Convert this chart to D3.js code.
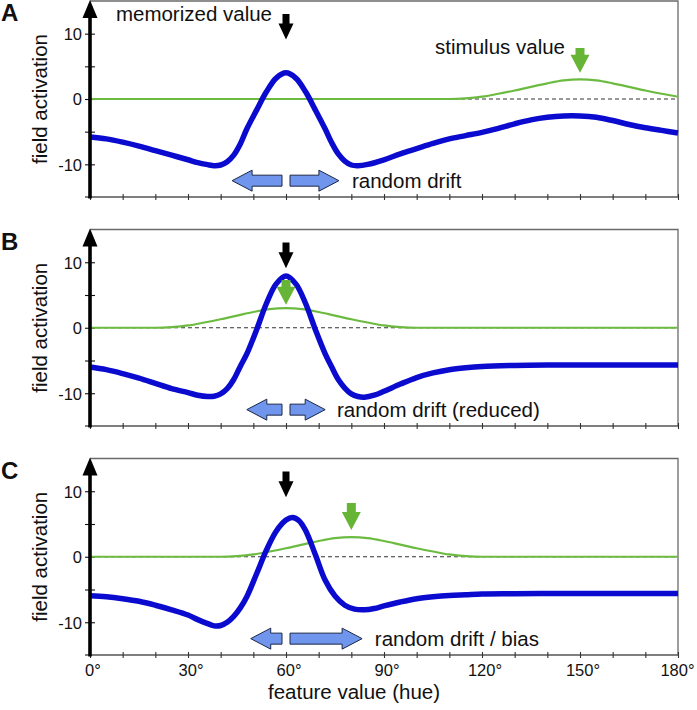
<!DOCTYPE html>
<html><head><meta charset="utf-8">
<script src="https://cdn.jsdelivr.net/npm/d3@7"></script>
<style>
body{margin:0;background:#fff}
svg{display:block}
text{font-family:"Liberation Sans",Arial,Helvetica,sans-serif;fill:#111}
</style>
</head><body>
<svg id="c" width="697" height="710"></svg>
<script>
// ---------------- data ----------------
const panelLetters = ["A", "B", "C"];
const xTickValues = [0, 10, 20, 30, 40, 50, 60, 70, 80, 90, 100, 110, 120, 130, 140, 150, 160, 170, 180];
const xTickLabels = ["0°", "30°", "60°", "90°", "120°", "150°", "180°"];
const xLabelValues = [0, 30, 60, 90, 120, 150, 180];
const yTickValues = [-10, -5, 0, 5, 10];
const yTickLabels = ["-10", "", "0", "", "10"];

// field activation (blue)
const fieldA_deg = [0,5,10,15,20,25,30,33,36,38,40,42,44,46,48,51,54,57,60,63,66,69,72,74,76,78,80,82,85,90,95,100,105,110,115,120,125,130,135,140,145,150,155,160,165,170,175,180];
const fieldA_val = [-5.8,-6.1,-6.6,-7.2,-7.9,-8.6,-9.3,-9.75,-10.05,-10.2,-10.1,-9.6,-8.6,-6.9,-4.6,-1.7,1.1,3.2,4.0,3.2,1.1,-1.7,-4.6,-6.7,-8.4,-9.5,-10.1,-10.2,-10.0,-9.3,-8.4,-7.6,-6.8,-6.1,-5.6,-5.1,-4.5,-3.8,-3.2,-2.8,-2.6,-2.6,-2.8,-3.3,-3.9,-4.4,-4.8,-5.2];

const fieldB_deg = [0,5,10,15,20,25,30,33,36,38,40,42,44,46,48,51,54,57,60,63,66,69,72,74,76,78,80,82,84,87,90,95,100,105,110,115,120,130,140,150,160,170,180];
const fieldB_val = [-6.0,-6.4,-7.0,-7.7,-8.5,-9.3,-9.9,-10.3,-10.5,-10.45,-10.1,-9.3,-7.9,-5.9,-4.0,-0.3,3.7,6.7,7.9,6.7,3.7,-0.3,-4.0,-6.0,-7.9,-9.2,-10.1,-10.5,-10.6,-10.3,-9.7,-8.6,-7.6,-6.9,-6.4,-6.1,-5.9,-5.75,-5.7,-5.7,-5.7,-5.7,-5.7];

const fieldC_deg = [0,5,10,15,20,25,30,33,36,38,40,42,44,46,48,51,54,57,60,62,64,66,69,72,75,78,81,84,87,90,95,100,105,110,115,120,130,140,150,160,170,180];
const fieldC_val = [-5.95,-6.1,-6.4,-6.8,-7.4,-8.1,-8.9,-9.6,-10.2,-10.55,-10.5,-10.0,-9.1,-7.8,-6.1,-2.6,1.0,3.9,5.6,6.0,5.5,4.0,0.3,-3.6,-6.0,-7.4,-8.0,-8.1,-7.9,-7.5,-6.9,-6.4,-6.1,-5.9,-5.8,-5.7,-5.65,-5.6,-5.6,-5.6,-5.6,-5.6];

// stimulus input (green)
const stimA_deg = [0,110,115,120,125,130,135,140,145,150,155,160,165,170,175,180];
const stimA_val = [0,0,0.1,0.35,0.8,1.3,1.85,2.4,2.85,3.0,2.85,2.4,1.85,1.3,0.8,0.35];

const stimB_deg = [0,20,25,30,35,40,45,50,55,60,65,70,75,80,85,90,95,100,180];
const stimB_val = [0,0,0.1,0.35,0.8,1.3,1.85,2.4,2.85,3.0,2.85,2.4,1.85,1.3,0.8,0.35,0.1,0,0];

const stimC_deg = [0,40,45,50,55,60,65,70,75,80,85,90,95,100,105,110,115,120,180];
const stimC_val = [0,0,0.1,0.35,0.8,1.3,1.85,2.4,2.85,3.0,2.85,2.4,1.85,1.3,0.8,0.35,0.1,0,0];

const memorizedValue = [60, 60, 60];
const stimulusValue = [150, 60, 80];
const stimArrowTop = [7.8, 7.3, 8.2];
const stimArrowTip = [4.0, 3.5, 4.1];
const driftLeftTip = [43.5, 48, 49.2];
const driftRightTip = [76.2, 72, 83.3];
const driftText = ["random drift", "random drift (reduced)", "random drift / bias"];
const driftTextDeg = [80.2, 75.6, 87.2];

// ---------------- drawing ----------------
const fields = [[fieldA_deg, fieldA_val], [fieldB_deg, fieldB_val], [fieldC_deg, fieldC_val]];
const stims = [[stimA_deg, stimA_val], [stimB_deg, stimB_val], [stimC_deg, stimC_val]];

const svg = d3.select("#c");
const x = d3.scaleLinear().domain([0, 180]).range([90, 678]);
const panelTop = [1, 229.5, 458.5];
const panelBottom = [197, 426, 655];

const BLUE = "#0b0bd0", GREEN = "#6cbb40", GREEN_ARROW = "#66b536";
const ARROW_FILL = "#6f96ec", ARROW_STROKE = "#1c2748";

function downArrow(g, cx, yTop, yTip, shaftW, headW, headL, fill) {
  const yh = yTip - headL;
  const pts = [[cx - shaftW/2, yTop], [cx + shaftW/2, yTop], [cx + shaftW/2, yh], [cx + headW/2, yh],
               [cx, yTip], [cx - headW/2, yh], [cx - shaftW/2, yh]];
  g.append("polygon").attr("points", pts.map(p => p.join(",")).join(" ")).attr("fill", fill);
}
function hArrow(g, xTail, xTip, yc) {
  const dir = Math.sign(xTip - xTail);
  const headL = 20, sh = 5.5, hh = 10.5;
  const xb = xTip - dir * headL;
  const pts = [[xTail, yc - sh], [xb, yc - sh], [xb, yc - hh], [xTip, yc], [xb, yc + hh], [xb, yc + sh], [xTail, yc + sh]];
  g.append("polygon").attr("points", pts.map(p => p.join(",")).join(" "))
    .attr("fill", ARROW_FILL).attr("stroke", ARROW_STROKE).attr("stroke-width", 1).attr("stroke-linejoin", "miter");
}

for (let i = 0; i < 3; i++) {
  const top = panelTop[i], bottom = panelBottom[i];
  const y = d3.scaleLinear().domain([-15, 15]).range([bottom, top]);
  const g = svg.append("g");

  // frame (top and right)
  g.append("path").attr("d", `M${x(0)},${top}H${x(180)}V${bottom}`)
    .attr("fill", "none").attr("stroke", "#6a6a6a").attr("stroke-width", 1.3);

  // bottom axis
  const xa = g.append("g").attr("transform", `translate(0,${bottom})`)
    .call(d3.axisBottom(x).tickValues(xTickValues).tickSizeOuter(0)
      .tickFormat(d => (i === 2 && xLabelValues.includes(d)) ? xTickLabels[xLabelValues.indexOf(d)] : ""));
  xa.select(".domain").attr("stroke", "#555").attr("stroke-width", 1.4).attr("d", `M${x(0)-5},0H${x(180)}`);
  xa.selectAll(".tick line").attr("y1", -3).attr("y2", 3).attr("stroke", "#333").attr("stroke-width", 1.1);
  xa.selectAll(".tick text").attr("y", 21).attr("dy", 0).attr("dx", d => d === 180 ? -1 : 2.5)
    .attr("font-size", 16.5).attr("font-family", null).attr("fill", "#111");

  // left axis ticks & labels
  const ya = g.append("g").attr("transform", `translate(${x(0)},0)`)
    .call(d3.axisLeft(y).tickValues(yTickValues).tickFormat((d, k) => yTickLabels[k]));
  ya.select(".domain").remove();
  ya.selectAll(".tick line").attr("x1", -5).attr("x2", 5).attr("stroke", "#111").attr("stroke-width", 1.1);
  ya.selectAll(".tick text").attr("x", -8).attr("dy", "0.35em")
    .attr("font-size", 16.5).attr("font-family", null).attr("fill", "#111");

  // dashed zero line
  g.append("line").attr("x1", x(0)).attr("x2", x(180)).attr("y1", y(0)).attr("y2", y(0))
    .attr("stroke", "#333").attr("stroke-width", 1).attr("stroke-dasharray", "4,3");

  // stimulus curve
  const [sd, sv] = stims[i];
  const sLine = d3.line().x((d, k) => x(sd[k])).y(d => y(d)).curve(d3.curveMonotoneX);
  g.append("path").attr("d", sLine(sv)).attr("fill", "none").attr("stroke", GREEN).attr("stroke-width", 2.2);

  // field curve
  const [fd, fv] = fields[i];
  const fLine = d3.line().x((d, k) => x(fd[k])).y(d => y(d)).curve(d3.curveCatmullRom.alpha(0.5));
  g.append("path").attr("d", fLine(fv)).attr("fill", "none").attr("stroke", BLUE)
    .attr("stroke-width", 5.5).attr("stroke-linecap", "butt").attr("stroke-linejoin", "round");

  // left axis thick line with arrowhead
  g.append("line").attr("x1", x(0)).attr("x2", x(0)).attr("y1", bottom + 1.5).attr("y2", top + 12)
    .attr("stroke", "#000").attr("stroke-width", 3.6);
  g.append("polygon").attr("points", `${x(0)},${top - 1} ${x(0) - 7.5},${top + 17} ${x(0) + 7.5},${top + 17}`).attr("fill", "#000");

  // memorized value arrow (black)
  downArrow(g, x(memorizedValue[i]), y(13), y(9.1), 7, 15, 16, "#000");
  // stimulus arrow (green)
  downArrow(g, x(stimulusValue[i]), y(stimArrowTop[i]), y(stimArrowTip[i]), 9, 19, 18, GREEN_ARROW);

  // drift arrows
  const yc = y(-12.5);
  hArrow(g, x(memorizedValue[i]) - 4, x(driftLeftTip[i]), yc);
  hArrow(g, x(memorizedValue[i]) + 4, x(driftRightTip[i]), yc);
  g.append("text").attr("x", x(driftTextDeg[i])).attr("y", yc + 7).attr("font-size", 20.5).text(driftText[i]);

  // panel letter
  g.append("text").attr("x", 1).attr("y", top + 20).attr("font-size", 24).attr("font-weight", "bold").text(panelLetters[i]);

  // y-axis label
  g.append("text").attr("transform", `translate(46.5,${y(0)}) rotate(-90)`).attr("text-anchor", "middle")
    .attr("font-size", 20.5).text("field activation");

  if (i === 0) {
    g.append("text").attr("x", x(memorizedValue[i]) - 14).attr("y", y(12.0)).attr("text-anchor", "end")
      .attr("font-size", 20.5).text("memorized value");
    g.append("text").attr("x", x(stimulusValue[i]) - 15).attr("y", y(6.9)).attr("text-anchor", "end")
      .attr("font-size", 20.5).text("stimulus value");
  }
}

// x-axis title
svg.append("text").attr("x", 354).attr("y", 699).attr("text-anchor", "middle")
  .attr("font-size", 20.5).text("feature value (hue)");
</script>
</body></html>
